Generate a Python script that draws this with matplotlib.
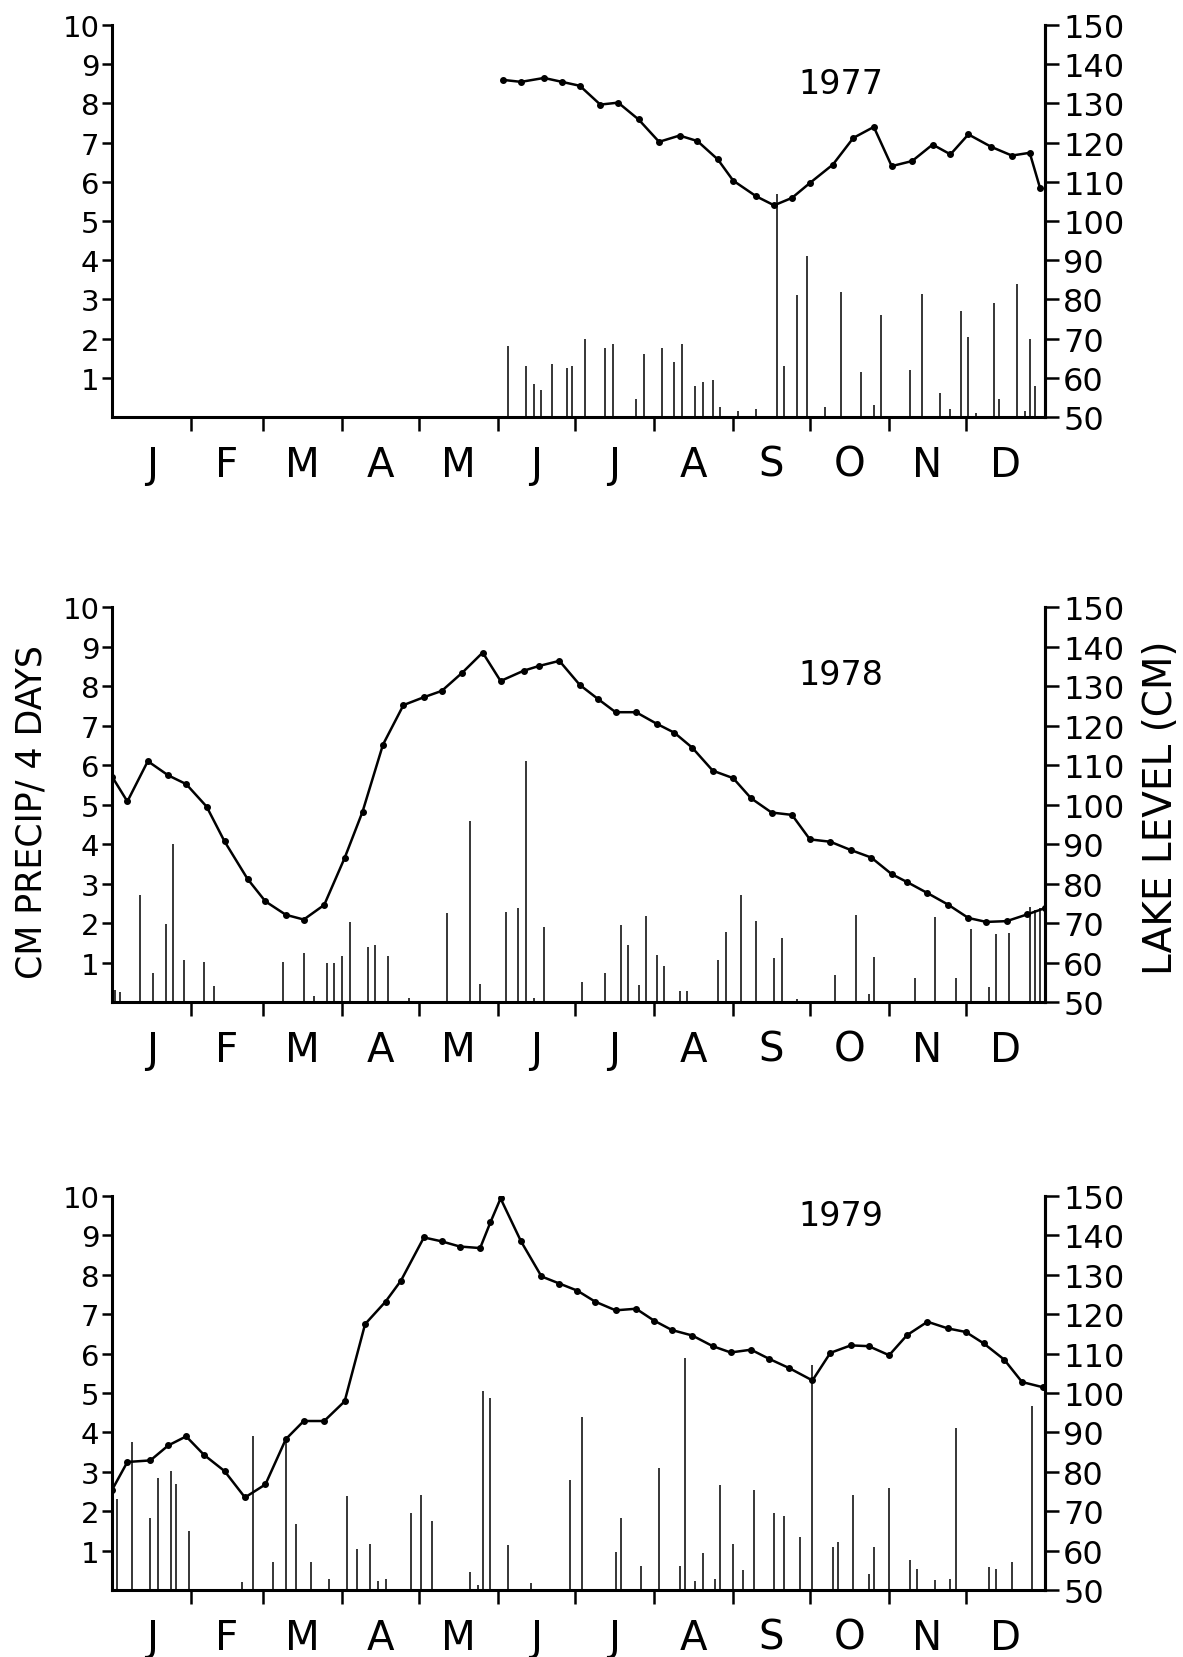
import matplotlib
matplotlib.use("Agg")
import matplotlib.pyplot as plt

plt.rcParams['font.family'] = ['DejaVu Sans']

months = ['J', 'F', 'M', 'A', 'M', 'J', 'J', 'A', 'S', 'O', 'N', 'D']
month_starts = [0, 31, 59, 90, 120, 151, 181, 212, 243, 273, 304, 334, 365]

# lake level (cm)
lvl77_day = [153, 160, 169, 176, 183, 191, 198, 206, 214, 222, 229, 237, 243, 252, 259,
             266, 273, 282, 290, 298, 305, 313, 321, 328, 335, 344, 352, 359, 363]
lvl77 = [136, 135.5, 136.5, 135.5, 134.5, 129.7, 130.2, 125.9, 120.2, 121.8, 120.4, 115.7,
         110.3, 106.3, 104, 105.9, 109.7, 114.4, 121.2, 124, 114, 115.3, 119.5, 117, 122.1,
         118.9, 116.7, 117.4, 108.5]

lvl78_day = [0, 6, 14, 22, 29, 37, 44, 53, 60, 68, 75, 83, 91, 98, 106, 114, 122, 129, 137,
             145, 152, 161, 167, 175, 183, 190, 197, 205, 213, 220, 227, 235, 243, 250, 258,
             266, 273, 281, 289, 297, 305, 311, 319, 327, 335, 342, 350, 358, 365]
lvl78 = [107.1, 100.8, 111, 107.4, 105.2, 99.5, 90.7, 81.2, 75.5, 72.1, 70.9, 74.6, 86.5,
         98.2, 115.2, 125.2, 127.2, 128.8, 133.4, 138.5, 131.3, 133.9, 135.1, 136.4, 130.3,
         126.8, 123.4, 123.4, 120.5, 118.2, 114.4, 108.6, 106.7, 101.6, 98, 97.4, 91.2, 90.6,
         88.5, 86.6, 82.4, 80.4, 77.6, 74.7, 71.3, 70.3, 70.5, 72.2, 73.8]

lvl79_day = [0, 6, 15, 22, 29, 36, 44, 52, 60, 68, 75, 83, 91, 99, 107, 113, 122, 129, 136,
             144, 148, 152, 160, 168, 175, 182, 189, 197, 205, 212, 219, 227, 235, 242, 250,
             257, 265, 274, 281, 289, 296, 304, 311, 319, 327, 334, 341, 349, 356, 364]
lvl79 = [75.4, 82.5, 82.9, 86.7, 89, 84.3, 80.2, 73.5, 76.8, 88.3, 92.9, 92.9, 97.9, 117.5,
         123.2, 128.5, 139.5, 138.5, 137.2, 136.8, 143.3, 149.4, 138.5, 129.6, 127.8, 126,
         123.2, 121, 121.4, 118.4, 116, 114.6, 111.9, 110.3, 111, 108.7, 106.3, 103.2, 110.2,
         112.1, 111.9, 109.6, 114.7, 118.1, 116.4, 115.5, 112.6, 108.5, 102.8, 101.5]

# precipitation (cm per 4 days)
pr77_day = [155, 162, 165, 168, 172, 178, 180, 185, 193, 196, 205, 208, 215, 220, 223, 228,
            231, 235, 238, 245, 252, 260, 263, 268, 272, 279, 285, 293, 298, 301, 312, 317,
            324, 328, 332, 335, 338, 345, 347, 354, 357, 359, 361]
pr77 = [1.8, 1.3, 0.85, 0.7, 1.35, 1.25, 1.3, 2.0, 1.75, 1.85, 0.45, 1.6, 1.75, 1.4, 1.85,
        0.8, 0.9, 0.95, 0.25, 0.15, 0.2, 5.7, 1.3, 3.1, 4.1, 0.25, 3.2, 1.15, 0.3, 2.6, 1.2,
        3.15, 0.6, 0.2, 2.7, 2.05, 0.1, 2.9, 0.45, 3.4, 0.15, 2.0, 0.8]

pr78_day = [1, 3, 11, 16, 21, 24, 28, 36, 40, 67, 75, 79, 84, 87, 90, 93, 100, 103, 108, 116,
            131, 140, 144, 154, 159, 162, 165, 169, 184, 193, 199, 202, 206, 209, 213, 216,
            222, 225, 237, 240, 246, 252, 259, 262, 268, 283, 291, 296, 298, 314, 322, 330,
            336, 343, 346, 351, 359, 361, 363]
pr78 = [0.3, 0.25, 2.72, 0.73, 1.98, 4.0, 1.07, 1.02, 0.41, 1.02, 1.24, 0.15, 0.98, 0.98,
        1.17, 2.02, 1.4, 1.45, 1.17, 0.1, 2.26, 4.58, 0.45, 2.28, 2.38, 6.1, 0.1, 1.89, 0.51,
        0.74, 1.95, 1.45, 0.44, 2.18, 1.2, 0.92, 0.29, 0.28, 1.07, 1.78, 2.7, 2.05, 1.11,
        1.63, 0.08, 0.69, 2.2, 0.21, 1.15, 0.61, 2.16, 0.61, 1.84, 0.38, 1.72, 1.76, 2.41,
        2.33, 2.37]

pr79_day = [2, 8, 15, 18, 23, 25, 30, 51, 55, 63, 68, 72, 78, 85, 92, 96, 101, 104, 107, 117,
            121, 125, 140, 143, 145, 148, 155, 164, 179, 184, 197, 199, 207, 214, 222, 224,
            228, 231, 236, 238, 243, 247, 251, 259, 263, 269, 274, 282, 284, 290, 296, 298,
            304, 312, 315, 322, 328, 330, 343, 346, 352, 360]
pr79 = [2.32, 3.77, 1.82, 2.85, 3.02, 2.68, 1.5, 0.21, 3.92, 0.71, 3.83, 1.67, 0.71, 0.29,
        2.38, 1.04, 1.18, 0.23, 0.27, 1.96, 2.4, 1.75, 0.46, 0.13, 5.04, 4.88, 1.15, 0.18,
        2.79, 4.4, 0.97, 1.82, 0.6, 3.1, 0.61, 5.9, 0.23, 0.95, 0.27, 2.66, 1.18, 0.51, 2.53,
        1.96, 1.87, 1.35, 5.7, 1.1, 1.21, 2.4, 0.4, 1.1, 2.6, 0.76, 0.53, 0.26, 0.29, 4.12,
        0.59, 0.53, 0.7, 4.68]

years = ['1977', '1978', '1979']
year_label_y = [8.5, 8.3, 9.5]
panels = [(lvl77_day, lvl77, pr77_day, pr77),
          (lvl78_day, lvl78, pr78_day, pr78),
          (lvl79_day, lvl79, pr79_day, pr79)]

fig = plt.figure(figsize=(11.83, 16.58), dpi=100)
boxes = [[0.0947, 0.7479, 0.7887, 0.2364],
         [0.0947, 0.3950, 0.7887, 0.2382],
         [0.0947, 0.0404, 0.7887, 0.2376]]

mids = [(month_starts[i] + month_starts[i + 1]) / 2 for i in range(12)]

for box, year, ty, (lday, lvl, pday, pr) in zip(boxes, years, year_label_y, panels):
    ax = fig.add_axes(box)
    ax.vlines(pday, 0, pr, color='black', lw=1.1)
    ax.set_xlim(0, 365)
    ax.set_ylim(0, 10)
    ax.set_yticks(range(1, 11))
    ax.tick_params(axis='y', direction='out', length=7, width=1.8, labelsize=21, pad=2)
    ax.set_xticks(month_starts[1:-1], [''] * 11)
    ax.tick_params(axis='x', which='major', direction='out', length=10, width=1.8)
    ax.set_xticks(mids, months, minor=True)
    ax.tick_params(axis='x', which='minor', length=0, pad=20, labelsize=29)
    ax.spines['top'].set_visible(False)
    for s in ['left', 'bottom', 'right']:
        ax.spines[s].set_linewidth(2.2)

    ax2 = ax.twinx()
    ax2.plot(lday, lvl, color='black', lw=1.8, marker='o', ms=4)
    ax2.set_ylim(50, 150)
    ax2.set_yticks(range(50, 151, 10))
    ax2.tick_params(axis='y', direction='out', length=10, width=1.8, labelsize=23, pad=3)
    ax2.spines['top'].set_visible(False)
    ax2.spines['right'].set_linewidth(2.2)

    ax.text(285, ty, year, ha='center', va='center', fontsize=24)

fig.text(0.027, 1 - 812 / 1658, 'CM PRECIP/ 4 DAYS', rotation=90,
         ha='center', va='center', fontsize=25)
fig.text(0.981, 1 - 808 / 1658, 'LAKE LEVEL (CM)', rotation=90,
         ha='center', va='center', fontsize=28)

fig.savefig('out.png', dpi=100)
